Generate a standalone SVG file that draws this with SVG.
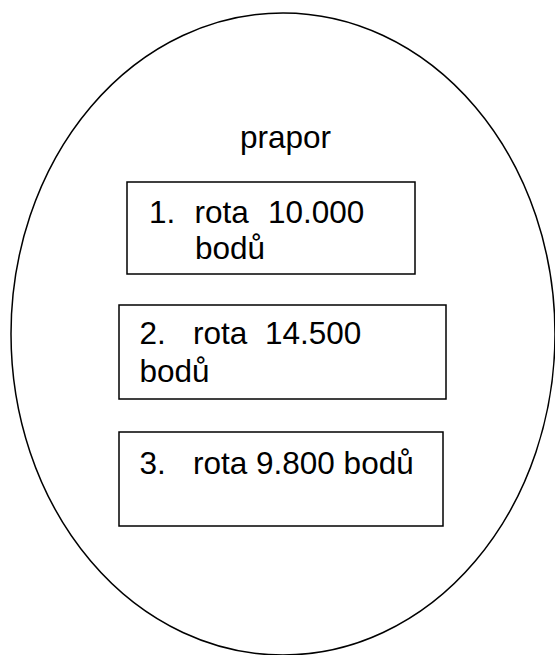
<svg xmlns="http://www.w3.org/2000/svg" width="555" height="655" viewBox="0 0 555 655">
<style>
.t{font-family:"Liberation Sans",Arial,sans-serif;font-size:31.5px;fill:#000}
.b{fill:#fff;stroke:#000;stroke-width:1.5}
</style>
<rect width="555" height="655" fill="#fff"/>
<g id="prapor">
<ellipse cx="283" cy="334" rx="272" ry="321" fill="none" stroke="#000" stroke-width="1.5"/>
<text class="t" x="240" y="147.5">prapor</text>
</g>
<g id="rota1">
<rect class="b" x="127" y="182" width="288" height="92"/>
<text class="t" x="149" y="222.5">1.</text>
<text class="t" x="194.5" y="222.5">rota</text>
<text class="t" x="268" y="222.5">10.000</text>
<text class="t" x="195" y="258.5">bodů</text>
</g>
<g id="rota2">
<rect class="b" x="119" y="305" width="327" height="94"/>
<text class="t" x="139.5" y="344">2.</text>
<text class="t" x="193" y="344">rota</text>
<text class="t" x="265" y="344">14.500</text>
<text class="t" x="139.5" y="381.5">bodů</text>
</g>
<g id="rota3">
<rect class="b" x="119" y="432" width="324" height="94"/>
<text class="t" x="139.5" y="473.5">3.</text>
<text class="t" x="193" y="473.5">rota 9.800 bodů</text>
</g>
<g id="connectors"/>
</svg>
